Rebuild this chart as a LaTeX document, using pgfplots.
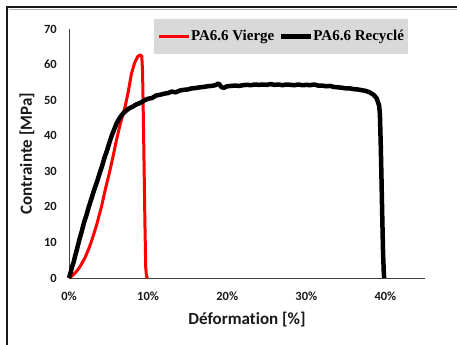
\documentclass[border=0pt]{standalone}
\usepackage{fontspec}
\setmainfont{Carlito}[Ligatures=NoCommon]
\newfontfamily\legfont{Liberation Serif}
\usepackage{pgfplots}
\pgfplotsset{compat=1.18}

\begin{document}
\begin{tikzpicture}
% overall page size
\useasboundingbox (-69bp,-67bp) rectangle (388bp,278bp);
\begin{axis}[
  scale only axis, width=356bp, height=249bp,
  xmin=0, xmax=45, ymin=0, ymax=70,
  clip=false,
  axis x line=bottom, axis y line=left,
  axis line style={-, black!75, line width=0.8bp},
  xtick={0,10,20,30,40},
  xticklabels={0\%,10\%,20\%,30\%,40\%},
  ytick={0,10,...,70},
  major tick length=0pt,
  /pgf/number format/assume math mode=true,
  tick label style={font=\fontsize{12.5bp}{14bp}\selectfont\bfseries, text=black!90},
  yticklabel style={anchor=east, inner sep=0pt, xshift=-12bp},
  xticklabel style={anchor=base, inner sep=0pt, yshift=-22bp},
  xlabel={Déformation [\%]},
  ylabel={Contrainte [MPa]},
  label style={font=\fontsize{17bp}{20bp}\selectfont\bfseries, text=black!90},
  xlabel style={at={(axis description cs:0.5,-0.1687)}, anchor=center},
  ylabel style={at={(axis description cs:-0.118,0.5)}, anchor=center},
  legend columns=2,
  legend cell align=left,
  legend image code/.code={\draw[#1] (0bp,0bp) -- (30bp,0bp);},
  legend style={at={(axis description cs:0.2388,1.0402)}, anchor=north west,
    fill=black!15, draw=none, inner xsep=3.5bp, inner ysep=11bp,
    font=\legfont\fontsize{15bp}{17bp}\selectfont\bfseries,
    nodes={inner sep=0.3bp},
    /tikz/every even column/.append style={column sep=4bp}},
]
% virgin PA6.6
\addplot[red, line width=3bp, line join=round] coordinates {
(0,0) (0.5,0.8) (1.0,2.0) (1.4,3.2) (2.0,5.6) (2.5,8.2) (2.9,10.7) (3.5,15.0)
(4.1,20.0) (4.6,25.0) (5.1,29.5) (5.6,34.5) (6.0,38.8) (6.5,43.5) (7.1,48.2)
(7.5,52.5) (7.9,57.5) (8.3,60.5) (8.7,62.3) (9.0,62.7) (9.2,62.4) (9.3,58)
(9.4,45) (9.5,30) (9.6,15) (9.7,3) (9.8,0.3) (10.0,0)
};
\addlegendentry{PA6.6 Vierge}
% recycled PA6.6
\addplot[black, line width=4.5bp, line join=round] coordinates {
(0,0) (0.2,1.5) (0.4,3.2) (0.6,4.6) (0.8,6.4) (1.0,8.0) (1.3,10.7) (1.6,13.0)
(1.9,15.6) (2.2,17.6) (2.5,20.0) (2.85,22.4) (3.2,24.9) (3.55,27.1) (3.9,29.6)
(4.2,31.6) (4.5,33.9) (4.8,35.8) (5.1,38.0) (5.4,40.0) (5.7,41.7) (6.0,43.4)
(6.3,44.6) (6.6,45.6) (6.9,46.4) (7.2,47.0) (7.6,47.7) (8.0,48.1) (8.5,48.8)
(9.0,49.2) (9.5,49.9) (10.0,50.4) (10.5,50.6) (11.0,51.3) (11.5,51.5) (12.0,51.8)
(12.5,52.0) (13.0,52.4) (13.5,52.2) (14.0,52.7) (14.5,52.9) (15.0,53.0) (15.5,53.3)
(16.0,53.4) (16.5,53.6) (17.0,53.7) (17.5,53.9) (18.0,54.0) (18.5,54.2) (18.9,54.7)
(19.3,53.6) (19.6,53.5) (20.0,53.9) (20.5,54.0) (21.0,54.1) (21.5,54.0) (22.0,54.2)
(22.5,54.3) (23.0,54.2) (23.5,54.4) (24.0,54.3) (24.5,54.4) (25.0,54.3) (25.5,54.5)
(26.0,54.3) (26.5,54.4) (27.0,54.2) (27.5,54.4) (28.0,54.3) (28.5,54.2) (29.0,54.4)
(29.5,54.2) (30.0,54.3) (30.5,54.2) (31.0,54.4) (31.5,54.1) (32.0,54.1) (32.5,53.9)
(33.0,54.0) (33.5,53.7) (34.0,53.6) (34.5,53.5) (35.0,53.3) (35.5,53.3) (36.0,53.1)
(36.5,53.0) (37.0,52.8) (37.5,52.6) (38.0,52.2) (38.5,51.5) (38.9,50.5) (39.2,48.5)
(39.3,46) (39.4,38) (39.5,28) (39.6,17) (39.7,7) (39.8,1) (39.85,0)
};
\addlegendentry{PA6.6 Recyclé}
\end{axis}
% frame around the figure
\draw[black!30, line width=0.6bp] (-60bp,269bp) -- (400bp,269bp);
\draw[black!90, line width=1.5bp] (-62bp,-80bp) -- (-62bp,271bp) -- (400bp,271bp);
\end{tikzpicture}
\end{document}
